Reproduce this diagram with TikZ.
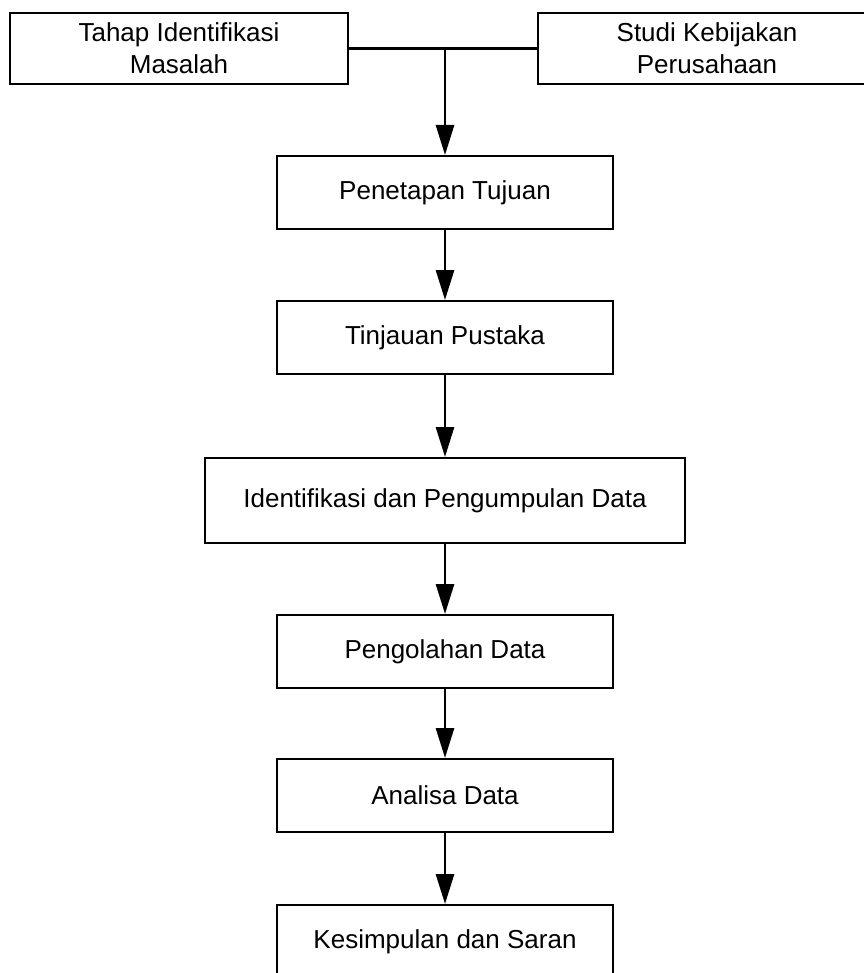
\documentclass[tikz,border=0pt]{standalone}
\usepackage{fontspec}
\setmainfont{Liberation Sans}
\usepackage{tikz}
\usetikzlibrary{arrows.meta}

\tikzset{
	box/.style={draw, line width=1pt, minimum width=168pt, minimum height=36.5pt, align=center, font=\fontsize{13}{16}\selectfont, inner sep=0pt},
	wide/.style={box, minimum width=240pt, minimum height=42.5pt},
	top/.style={box, minimum width=169pt, minimum height=35.5pt},
	flow/.style={line width=1.4pt, -{Triangle[length=15pt, width=9pt]}}
}

\begin{document}
\begin{tikzpicture}[x=0.5pt, y=-0.5pt]
		\useasboundingbox (0, 0) rectangle (863, 973);

		\node[top] (L0) at (179, 48.5) {Tahap Identifikasi\\Masalah};
		\node[top] (R0) at (707, 48.5) {Studi Kebijakan\\Perusahaan};
		\coordinate (J) at (445, 48.5);

		\node[box] (N1) at (445, 192.5) {Penetapan Tujuan};
		\node[box] (N2) at (445, 337.5) {Tinjauan Pustaka};
		\node[wide] (N3) at (445, 500.5) {Identifikasi dan Pengumpulan Data};
		\node[box] (N4) at (445, 651.5) {Pengolahan Data};
		\node[box] (N5) at (445, 795.5) {Analisa Data};
		\node[box] (N6) at (445, 941.5) {Kesimpulan dan Saran};

		\draw[line width=1.4pt] (L0) -- (R0);
		\draw[flow] (J) -- (N1);
		\draw[flow] (N1) -- (N2);
		\draw[flow] (N2) -- (N3);
		\draw[flow] (N3) -- (N4);
		\draw[flow] (N4) -- (N5);
		\draw[flow] (N5) -- (N6);
	\end{tikzpicture}
\end{document}
